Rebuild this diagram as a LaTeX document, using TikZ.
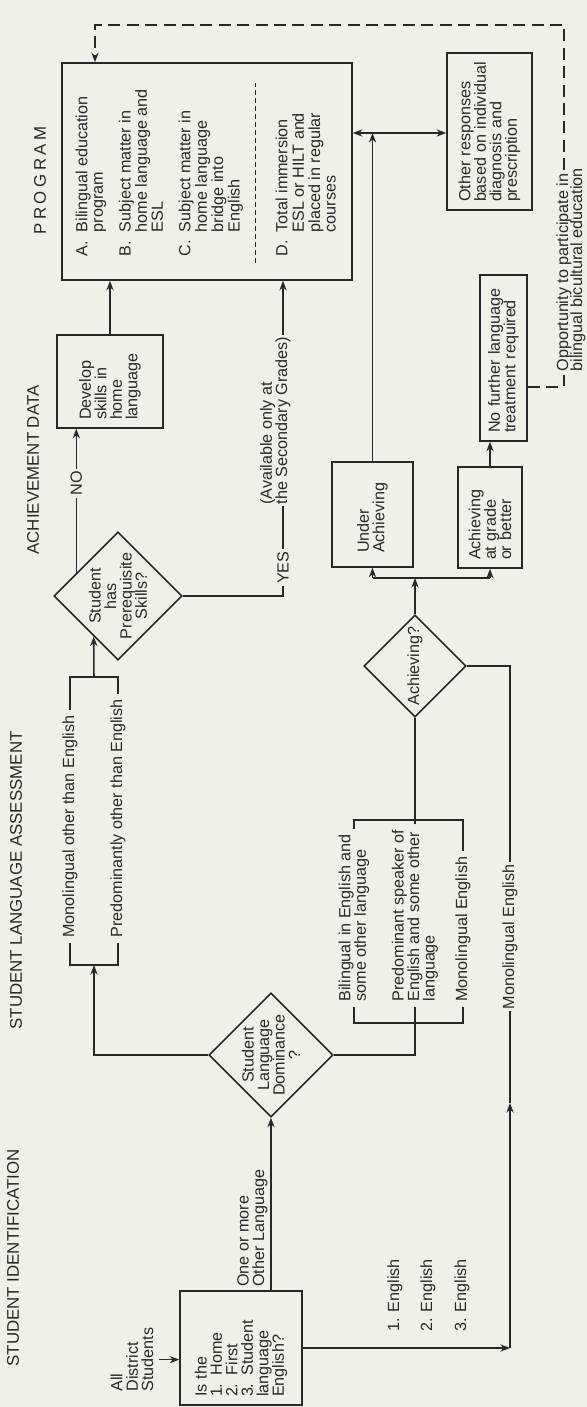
\documentclass[tikz,border=0pt]{standalone}
\usepackage{fontspec}
\setmainfont{Liberation Sans}
\usetikzlibrary{shapes.geometric,arrows.meta}

\definecolor{paper}{RGB}{240,240,232}
\definecolor{ink}{RGB}{40,40,40}

\begin{document}
\begin{tikzpicture}[
    color=ink, line width=1.1pt,
    font=\fontsize{11.5}{11}\selectfont,
    >={Stealth[length=2.4mm,width=1.8mm]},
    box/.style={draw, rectangle, align=left, inner xsep=0.2cm, inner ysep=0.05cm},
    decision/.style={draw, diamond, inner sep=0pt, align=center},
    heading/.style={anchor=west, font=\fontsize{12}{13}\selectfont},
    cutlabel/.style={fill=paper, inner sep=1.5pt},
    dashline/.style={dash pattern=on 3mm off 1.6mm}
  ]
  % sheet is laid out landscape, then turned a quarter turn
  \begin{scope}[rotate=90, transform shape]
    \fill[paper] (0,0) rectangle (35.175,-14.675);
    \useasboundingbox (0,0) rectangle (35.175,-14.675);

    % column headings
    \node[heading] (hident) at (0.875,-0.325) {STUDENT IDENTIFICATION};
    \node[heading] (hassess) at (9.3,-0.4) {STUDENT LANGUAGE ASSESSMENT};
    \node[heading] (hachieve) at (21.175,-0.825) {ACHIEVEMENT DATA};
    \node[heading] (hprogram) at (29.175,-1.0)
      {P\kern2.5pt R\kern2.5pt O\kern2.5pt G\kern2.5pt R\kern2.5pt A\kern2.5pt M};

    % identification
    \node[anchor=west, align=left] (students) at (0.25,-3.3) {All\\District\\Students};
    \node[box, text width=2.45cm, minimum height=3.05cm] (isbox) at (1.475,-6.025)
      {Is the\\1. Home\\2. First\\3. Student\\language\\English?};
    \draw[->] (students.south) -- (students.south |- isbox.north);
    \foreach \n/\v in {1/-9.875, 2/-10.7, 3/-11.55}
      \node[anchor=west] (eng\n) at (1.75,\v) {\n. English};

    % language dominance
    \node[decision, minimum width=3.1cm, minimum height=3.1cm] (dom) at (8.8,-6.775) {};
    \node[align=center] (domtext) at (dom.center) {Student\\Language\\Dominance\\?};
    \draw[->] (isbox.east |- dom.west) -- (dom.west)
      node[pos=0, anchor=south west, align=left, inner sep=2pt] (otherlang) {One or more\\Other Language};

    % other than English
    \node[anchor=west] (monoother) at (11.6,-1.75) {Monolingual other than English};
    \node[anchor=west] (predother) at (11.6,-2.95) {Predominantly other than English};
    \draw (monoother.west) -| (11.05,-2.95) -- (predother.west);
    \draw (monoother.east) -| (18.25,-2.95) -- (predother.east);
    \draw[->] (dom.north) |- (11.05,-2.35);

    % prerequisite skills
    \node[decision, minimum width=3.2cm, minimum height=3.2cm] (prereq) at (20.275,-2.95) {};
    \node[align=center] (prereqtext) at (prereq.center) {Student\\has\\Prerequisite\\Skills?};
    \draw[->] (18.25,-2.35) -- (prereq.149);

    \node[box, text width=1.925cm, minimum height=2.65cm] (develop) at (25.6375,-2.75)
      {Develop\\skills in\\home\\language};
    \draw[->] (prereq.61) -- (prereq.61 -| develop.west) node[pos=0.62, cutlabel] (nolabel) {NO};

    % program box
    \node[box, inner sep=0pt, minimum width=5.425cm, minimum height=7.25cm] (program) at (30.8875,-5.175) {};
    \node[anchor=north west, inner sep=0pt] (progabc) at (28.75,-1.875) {%
      \begin{tabular}{@{}p{0.6cm}@{}l@{}}
        A. & Bilingual education\\
           & program\\[8pt]
        B. & Subject matter in\\
           & home language and\\
           & ESL\\[8pt]
        C. & Subject matter in\\
           & home language\\
           & bridge into\\
           & English
      \end{tabular}};
    \draw[line width=0.6pt, dash pattern=on 1.2mm off 0.8mm] (28.6,-6.375) -- (33.1,-6.375);
    \node[anchor=north west, inner sep=0pt] (progd) at (28.75,-6.875) {%
      \begin{tabular}{@{}p{0.6cm}@{}l@{}}
        D. & Total immersion\\
           & ESL or HILT and\\
           & placed in regular\\
           & courses
      \end{tabular}};
    \draw[->] (develop.east) -- (develop.east -| program.west);

    % yes branch
    \coordinate (yesend) at (program.west |- 0,-7.075);
    \draw[->] (prereq.south) |- (yesend) node[pos=0.545, cutlabel] (yeslabel) {YES};
    \node[anchor=west, cutlabel] (avail2) at (22.5,-7.075) {the Secondary Grades)};
    \node[anchor=west, inner sep=1pt] (avail1) at (22.5,-6.69) {(Available only at};

    % English speakers
    \node[anchor=west, align=left] (bil) at (10.0,-8.85) {Bilingual in English and\\some other language};
    \node[anchor=west, align=left] (predeng) at (10.0,-10.375) {Predominant speaker of\\English and some other\\language};
    \node[anchor=west] (monoeng) at (10.0,-11.575) {Monolingual English};
    \draw (bil.west) -| (9.6,-11.575) -- (monoeng.west);
    \draw (bil.east) -| (14.675,-11.575) -- (monoeng.east);
    \draw (dom.south) |- (predeng.west);

    \node[decision, minimum width=2.55cm, minimum height=2.55cm] (achieving) at (18.525,-10.375) {Achieving?};
    \draw (predeng.east) -- (achieving.west);

    \coordinate (engturn) at (isbox.south |- 0,-12.75);
    \coordinate (engmid) at (7.6,-12.75);
    \draw[->] (isbox.south) -- (engturn);
    \draw[->] (engturn) -- (engmid);
    \draw (engmid) -| (achieving.south) node[pos=0.19, cutlabel] (monolow) {Monolingual English};

    % achievement outcomes
    \coordinate (achfork) at (20.725,-10.375);
    \node[box, inner xsep=0.35cm, text width=1.925cm, minimum height=2.025cm] (under) at (22.3125,-9.3125)
      {Under\\Achieving};
    \node[box, text width=2.125cm, minimum height=1.6cm] (grade) at (22.2375,-12.25)
      {Achieving\\at grade\\or better};
    \draw[->] (achieving.east) -- (achfork);
    \draw (achfork |- under.west) -- (achfork |- grade.west);
    \draw[->] (achfork |- under.west) -- (under.west);
    \draw[->] (achfork |- grade.west) -- (grade.west);

    \node[box, text width=3.75cm, minimum height=1.175cm] (nofurther) at (26.225,-12.5875)
      {No further language\\treatment required};
    \draw[->] (grade.east) -- (grade.east -| nofurther.west);

    \node[box, text width=3.525cm, minimum height=2.125cm] (other) at (31.8875,-12.2375)
      {Other responses\\based on individual\\diagnosis and\\prescription};
    \coordinate (tee) at (under.east -| 31.85,0);
    \draw[->] (under.east) -- (tee);
    \draw[<->] (program.south -| tee) -- (other.north -| tee);

    % optional bicultural route
    \coordinate (oppstart) at (nofurther.south -| 25.5,0);
    \node[anchor=west, inner sep=2pt] (opp1) at (25.8,-14.1) {Opportunity to participate in};
    \node[anchor=west, inner sep=2pt] (opp2) at (25.8,-14.45) {bilingual bicultural education};
    \draw[dashline] (oppstart) |- (opp1.west);
    \draw[dashline, ->] (opp1.east) -| (34.55,-2.375) -- (program.east |- 0,-2.375);
  \end{scope}
\end{tikzpicture}
\end{document}
